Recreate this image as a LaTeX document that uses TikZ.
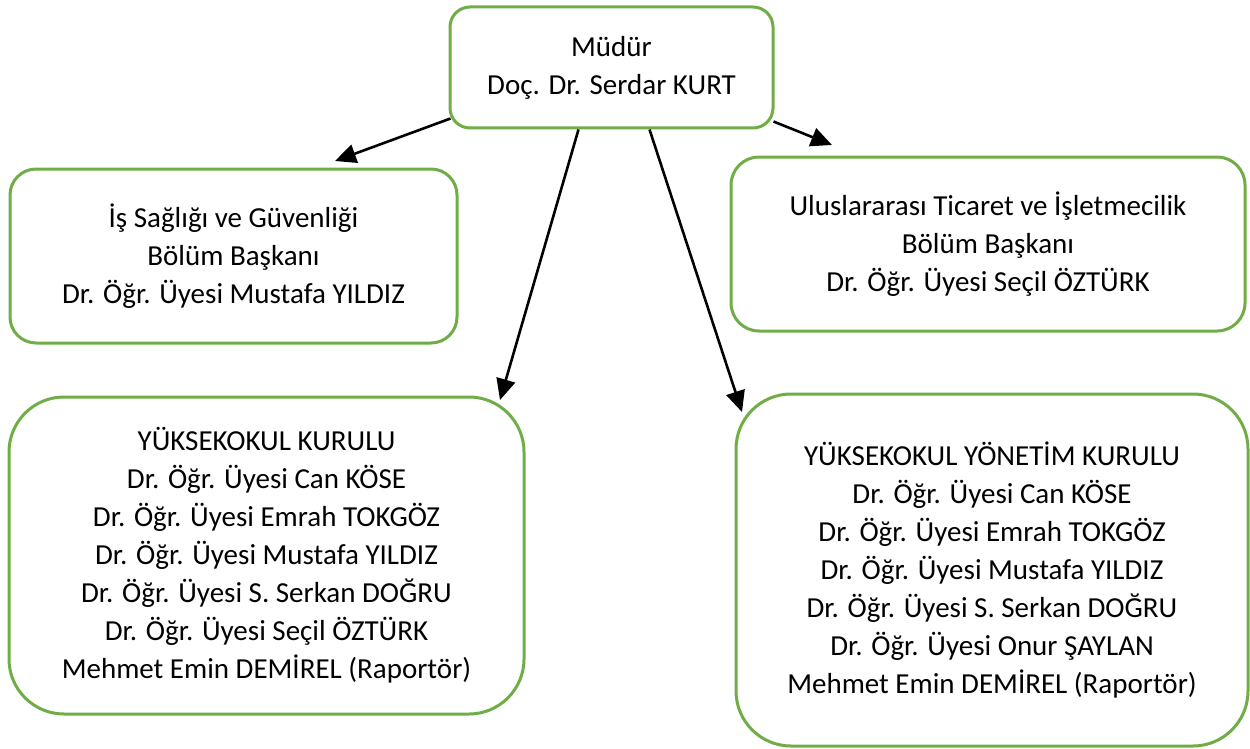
\documentclass[tikz,border=0pt]{standalone}
\usepackage{fontspec}
\setmainfont{Carlito}
\usetikzlibrary{arrows.meta,calc}
\definecolor{boxgreen}{RGB}{112,173,71}
\begin{document}
\begin{tikzpicture}[x=1pt,y=-1pt,
  box/.style={draw=boxgreen, line width=3pt, align=center, inner sep=0pt,
    font=\fontsize{29}{38}\selectfont},
  arr/.style={draw=black, line width=2.6pt, -{Triangle[length=21pt,width=19pt]}}]
\useasboundingbox (0,0) rectangle (1250,749);
\node[box, rounded corners=20pt, minimum width=323pt, minimum height=121pt] (top) at (611.5,67.5)
  {Müdür\\Doç. Dr. Serdar KURT};
\node[box, rounded corners=26pt, minimum width=447pt, minimum height=174pt] (isg) at (233.5,256)
  {İş Sağlığı ve Güvenliği\\Bölüm Başkanı\\Dr. Öğr. Üyesi Mustafa YILDIZ};
\node[box, rounded corners=28pt, minimum width=514pt, minimum height=174pt] (uti) at (988,244)
  {Uluslararası Ticaret ve İşletmecilik\\Bölüm Başkanı\\Dr. Öğr. Üyesi Seçil ÖZTÜRK};
\node[box, rounded corners=55pt, minimum width=515pt, minimum height=317pt] (yk) at (266.5,555.5)
  {YÜKSEKOKUL KURULU\\Dr. Öğr. Üyesi Can KÖSE\\Dr. Öğr. Üyesi Emrah TOKGÖZ\\Dr. Öğr. Üyesi Mustafa YILDIZ\\Dr. Öğr. Üyesi S. Serkan DOĞRU\\Dr. Öğr. Üyesi Seçil ÖZTÜRK\\Mehmet Emin DEMİREL (Raportör)};
\node[box, rounded corners=55pt, minimum width=512pt, minimum height=352pt] (ykk) at (992,570)
  {YÜKSEKOKUL YÖNETİM KURULU\\Dr. Öğr. Üyesi Can KÖSE\\Dr. Öğr. Üyesi Emrah TOKGÖZ\\Dr. Öğr. Üyesi Mustafa YILDIZ\\Dr. Öğr. Üyesi S. Serkan DOĞRU\\Dr. Öğr. Üyesi Onur ŞAYLAN\\Mehmet Emin DEMİREL (Raportör)};
\coordinate (e1) at (335,161);
\coordinate (e2) at (500,400);
\coordinate (e3) at (742,412);
\coordinate (e4) at (832,145);
\draw[arr] ($(top.south west)+(2,-11)$) -- (e1);
\draw[arr] ($(top.south)+(-33,0)$) -- (e2);
\draw[arr] ($(top.south)+(38,0)$) -- (e3);
\draw[arr] ($(top.south east)+(-1,-8)$) -- (e4);
\end{tikzpicture}
\end{document}
